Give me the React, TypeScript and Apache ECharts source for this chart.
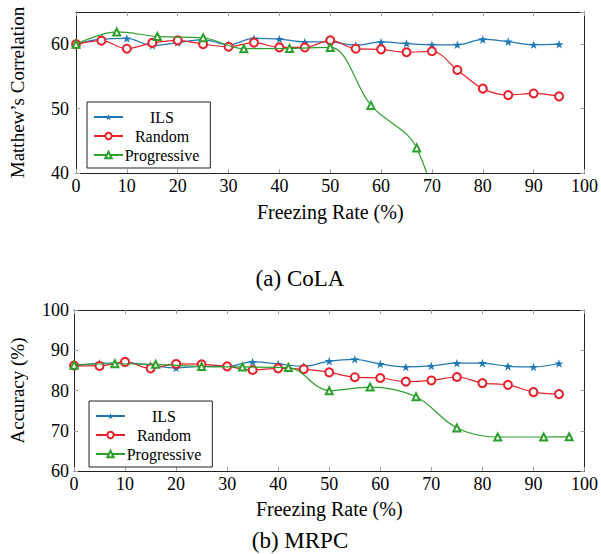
import React, { useEffect, useRef } from "react";
import * as echarts from "echarts";

// ---------- Data ----------
const seriesNames = ["ILS", "Random", "Progressive"];

// (a) CoLA
const colaX = [0, 5, 10, 15, 20, 25, 30, 35, 40, 45, 50, 55, 60, 65, 70, 75, 80, 85, 90, 95];
const colaILS = [60.0, 60.8, 60.9, 59.8, 60.25, 60.7, 59.9, 60.9, 60.8, 60.35, 60.35, 59.85, 60.35, 60.1, 59.9, 59.9, 60.75, 60.4, 59.9, 60.0];
const colaRandom = [60.0, 60.55, 59.3, 60.2, 60.6, 60.0, 59.6, 60.25, 59.5, 59.5, 60.6, 59.3, 59.2, 58.75, 58.9, 56.0, 53.1, 52.1, 52.35, 51.9];
const colaProgX = [0, 8, 16, 25, 33, 42, 50, 58, 67, 75];
const colaProg = [60.0, 61.9, 61.2, 61.0, 59.3, 59.35, 59.5, 50.5, 43.9, 22.0];

// (b) MRPC
const mrpcX = [0, 5, 10, 15, 20, 25, 30, 35, 40, 45, 50, 55, 60, 65, 70, 75, 80, 85, 90, 95];
const mrpcILS = [86.3, 86.75, 86.9, 86.3, 85.6, 86.0, 86.0, 87.1, 86.6, 86.0, 87.3, 87.75, 86.6, 85.85, 86.1, 86.8, 86.8, 86.0, 85.85, 86.7];
const mrpcRandom = [86.2, 86.1, 87.1, 85.5, 86.6, 86.5, 86.0, 85.1, 85.5, 85.3, 84.5, 83.3, 83.1, 82.2, 82.5, 83.35, 81.85, 81.4, 79.6, 79.1];
const mrpcProgX = [0, 8, 16, 25, 33, 42, 50, 58, 67, 75, 83, 92, 97];
const mrpcProg = [86.3, 86.65, 86.5, 85.95, 85.85, 85.7, 79.95, 80.85, 78.45, 70.7, 68.45, 68.45, 68.5];

const xTicks = { min: 0, max: 100, interval: 10 };
const colaY = { min: 40, max: 65, interval: 10 };
const mrpcY = { min: 60, max: 100, interval: 10 };

const captions = ["(a) CoLA", "(b) MRPC"];
const xName = "Freezing Rate (%)";
const yNames = ["Matthew\u2019s Correlation", "Accuracy (%)"];

// ---------- Styling ----------
const FONT = "Liberation Serif";
const COLORS = ["#1f77b4", "#e8202a", "#2ca02c"];
const STAR =
  "path://M0,-1 L0.2245,-0.309 L0.951,-0.309 L0.363,0.118 L0.588,0.809 L0,0.382 L-0.588,0.809 L-0.363,0.118 L-0.951,-0.309 L-0.2245,-0.309 Z";

const zip = (xs: number[], ys: number[]) => xs.map((x, i) => [x, ys[i]]);

function makeSeries(gridIdx: number, data: number[][][]) {
  const symbols = [STAR, "emptyCircle", "emptyTriangle"];
  const sizes = [9, 8, 7];
  return data.map((d, i) => ({
    name: seriesNames[i],
    type: "line",
    xAxisIndex: gridIdx * 2,
    yAxisIndex: gridIdx * 2,
    data: d,
    smooth: 0.35,
    clip: true,
    symbol: symbols[i],
    symbolSize: sizes[i],
    symbolKeepAspect: true,
    showAllSymbol: true,
    lineStyle: { color: COLORS[i], width: 1.2 },
    itemStyle: {
      color: COLORS[i],
      borderColor: COLORS[i],
      borderWidth: i === 0 ? 0 : 1.1,
    },
    emphasis: { disabled: true },
    z: 2 + i,
  }));
}

function axesFor(
  gridIdx: number,
  y: { min: number; max: number; interval: number },
  yName: string,
  yLabelMargin: number,
  xNameGap: number,
  yNameGap: number
) {
  const lineCol = "#222";
  const tickCol = "#a0a0a0";
  const xBottom = {
    type: "value",
    gridIndex: gridIdx,
    position: "bottom",
    ...xTicks,
    name: xName,
    nameLocation: "middle",
    nameGap: xNameGap,
    nameTextStyle: { fontFamily: FONT, fontSize: 20, color: "#000" },
    axisLine: { show: true, onZero: false, lineStyle: { color: lineCol, width: 1 } },
    axisTick: { show: true, inside: true, length: 4, lineStyle: { color: tickCol } },
    axisLabel: { fontFamily: FONT, fontSize: 18, color: "#000", margin: 4 },
    splitLine: { show: false },
  };
  const xTop = {
    type: "value",
    gridIndex: gridIdx,
    position: "top",
    ...xTicks,
    axisLine: { show: true, onZero: false, lineStyle: { color: lineCol, width: 1 } },
    axisTick: { show: true, inside: true, length: 4, lineStyle: { color: tickCol } },
    axisLabel: { show: false },
    splitLine: { show: false },
  };
  const yLeft = {
    type: "value",
    gridIndex: gridIdx,
    position: "left",
    ...y,
    name: yName,
    nameLocation: "middle",
    nameGap: yNameGap,
    nameTextStyle: { fontFamily: FONT, fontSize: 19, color: "#000" },
    axisLine: { show: true, onZero: false, lineStyle: { color: lineCol, width: 1 } },
    axisTick: { show: true, inside: true, length: 4, lineStyle: { color: tickCol } },
    axisLabel: {
      fontFamily: FONT,
      fontSize: 18,
      color: "#000",
      margin: yLabelMargin,
      showMaxLabel: y.max % y.interval === 0,
    },
    splitLine: { show: false },
  };
  const yRight = {
    type: "value",
    gridIndex: gridIdx,
    position: "right",
    ...y,
    axisLine: { show: true, onZero: false, lineStyle: { color: lineCol, width: 1 } },
    axisTick: { show: true, inside: true, length: 4, lineStyle: { color: tickCol } },
    axisLabel: { show: false },
    splitLine: { show: false },
  };
  return { x: [xBottom, xTop], y: [yLeft, yRight] };
}

function makeLegend(left: number, top: number) {
  return {
    data: seriesNames,
    orient: "vertical",
    left,
    top,
    itemWidth: 29,
    itemHeight: 8,
    itemGap: 3,
    padding: [7, 11, 5, 6],
    backgroundColor: "#fff",
    borderColor: "#222",
    borderWidth: 1,
    borderRadius: 0,
    selectedMode: false,
    formatter: "{a|{name}}",
    textStyle: {
      fontFamily: FONT,
      fontSize: 16,
      color: "#000",
      rich: {
        a: { width: 68, align: "center", fontFamily: FONT, fontSize: 16, lineHeight: 16, color: "#000" },
      },
    },
  };
}

export default function App() {
  const ref = useRef<HTMLDivElement>(null);

  useEffect(() => {
    if (!ref.current) return;
    const chart = echarts.init(ref.current, null, { renderer: "svg" });
    const a0 = axesFor(0, colaY, yNames[0], 7, 29, 49);
    const a1 = axesFor(1, mrpcY, yNames[1], 5, 28, 47);
    const option = {
      animation: false,
      backgroundColor: "#fff",
      grid: [
        { left: 71, top: 12, width: 517, height: 161, containLabel: false },
        { left: 73, top: 310, width: 516, height: 161, containLabel: false },
      ],
      xAxis: [...a0.x, ...a1.x],
      yAxis: [...a0.y, ...a1.y],
      legend: [makeLegend(87, 102), makeLegend(89, 401)],
      series: [
        ...makeSeries(0, [zip(colaX, colaILS), zip(colaX, colaRandom), zip(colaProgX, colaProg)]),
        ...makeSeries(1, [zip(mrpcX, mrpcILS), zip(mrpcX, mrpcRandom), zip(mrpcProgX, mrpcProg)]),
      ],
      graphic: [
        {
          type: "text",
          x: 300,
          y: 278,
          style: { text: captions[0], fontFamily: FONT, fontSize: 23, fill: "#000", align: "center", verticalAlign: "middle" },
        },
        {
          type: "text",
          x: 300,
          y: 540,
          style: { text: captions[1], fontFamily: FONT, fontSize: 23, fill: "#000", align: "center", verticalAlign: "middle" },
        },
      ],
    };
    chart.setOption(option as any);
    return () => chart.dispose();
  }, []);

  return (
    <div
      ref={ref}
      style={{ position: "fixed", left: 0, top: 0, width: 601, height: 554, background: "#fff" }}
    />
  );
}
